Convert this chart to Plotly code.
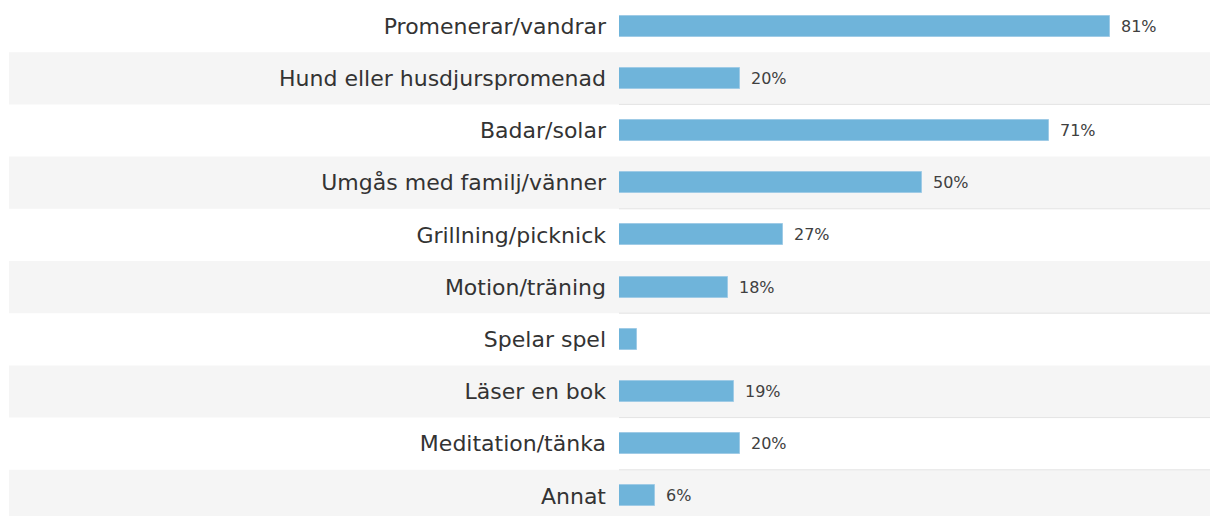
import plotly.graph_objects as go

categories = ["Promenerar/vandrar", "Hund eller husdjurspromenad", "Badar/solar",
              "Umgås med familj/vänner", "Grillning/picknick", "Motion/träning",
              "Spelar spel", "Läser en bok", "Meditation/tänka", "Annat"]
values = [81, 20, 71, 50, 27, 18, 3, 19, 20, 6]
show_value = [True, True, True, True, True, True, False, True, True, True]

OFF = 8                 # page body margin
W, H = 1218 - OFF, 516 - OFF
L = 619 - OFF
plot_w = W - L
row_h = 52.2
top = -0.5 + OFF / row_h
span = H / row_h

fig = go.Figure()
fig.add_trace(go.Bar(
    x=values, y=categories, orientation="h",
    marker=dict(color="#6fb4da", line=dict(color="#9fcbe6", width=1)),
    width=0.4, hoverinfo="skip",
))

shapes = []
for i in range(len(categories)):
    if i % 2 == 1:
        shapes.append(dict(type="rect", xref="paper", yref="y",
                           x0=(1 - L) / plot_w, x1=1.05, y0=i - 0.5, y1=i + 0.5,
                           fillcolor="#f5f5f5", line=dict(width=0), layer="below"))
        shapes.append(dict(type="line", xref="paper", yref="y",
                           x0=0, x1=1, y0=i + 0.5, y1=i + 0.5,
                           line=dict(color="#e3e3e3", width=1), layer="below"))
shapes.append(dict(type="line", xref="paper", yref="y", x0=0, x1=1,
                   y0=len(categories) - 1.5, y1=len(categories) - 1.5,
                   line=dict(color="#e3e3e3", width=1), layer="below"))

annotations = []
for c, v, s in zip(categories, values, show_value):
    if s:
        annotations.append(dict(x=v, y=c, xref="x", yref="y", text=f"{v}%",
                                showarrow=False, xanchor="left", xshift=9,
                                font=dict(family="DejaVu Sans", size=16, color="#404040")))

fig.update_layout(
    width=W, height=H,
    margin=dict(l=L, r=0, t=0, b=0, pad=0),
    paper_bgcolor="white", plot_bgcolor="rgba(0,0,0,0)",
    showlegend=False, bargap=0,
    shapes=shapes, annotations=annotations,
    xaxis=dict(range=[0, plot_w / 6.06], visible=False, fixedrange=True),
    yaxis=dict(range=[top + span, top], showgrid=False, zeroline=False,
               ticks="", ticklabelstandoff=12, showline=False,
               tickfont=dict(family="DejaVu Sans", size=22, color="#333333"),
               fixedrange=True),
)
fig.write_html("out.html", config={"displayModeBar": False})
